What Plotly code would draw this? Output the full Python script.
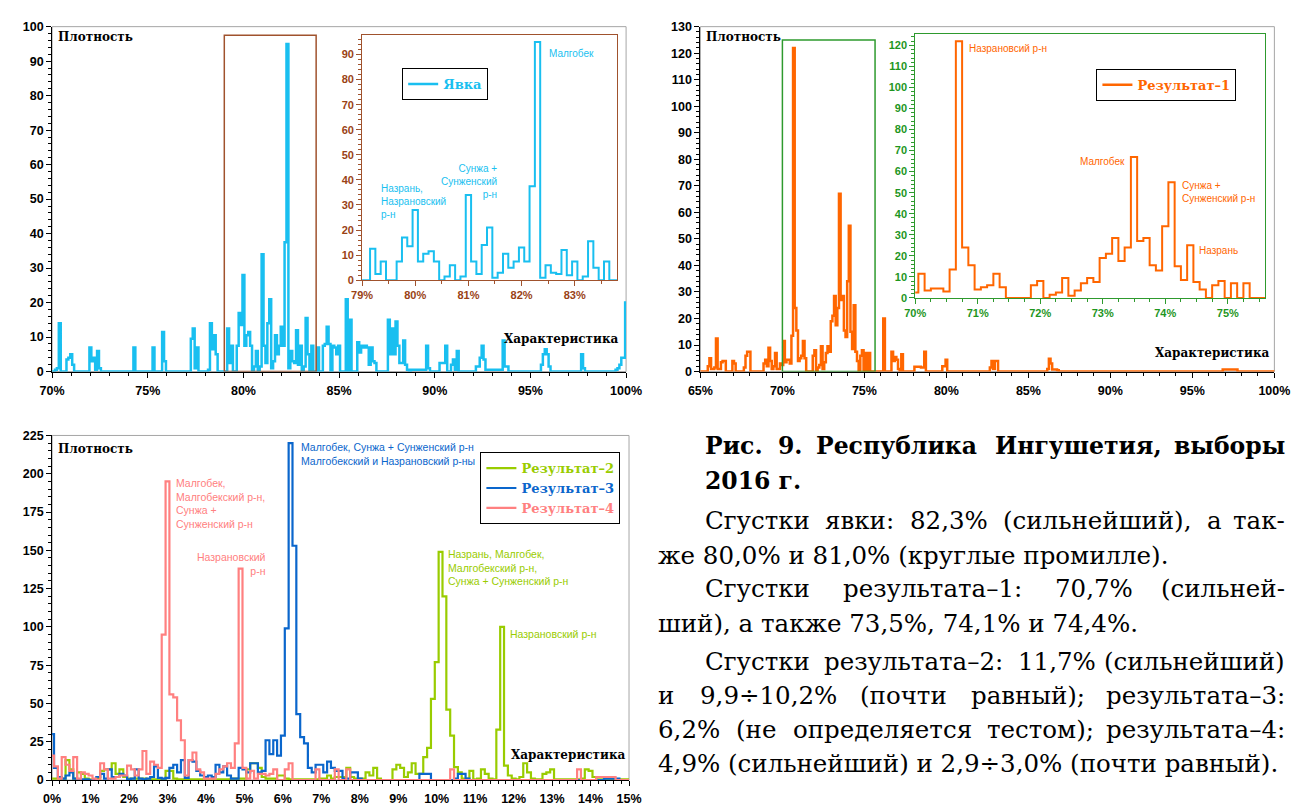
import numpy as np
import plotly.graph_objects as go

W, H = 1307, 809
def fx(px): return px / W
def fy(py): return 1 - py / H

# ---------------- DATA (bins of 0.1 %, first bin centre given) ----------------
yavka_start = 70.0
yavka = [
    0, 0, 0.5, 1, 14, 0, 0, 0, 3.5, 4,          # 70
    5, 2, 0, 0, 0, 0, 0, 0, 0, 0,               # 71
    7, 3, 4, 0.5, 6, 1, 0, 0, 0, 0,             # 72
    0, 0, 0, 0, 0, 0, 0, 0, 0, 0,               # 73
    0, 0, 0, 7, 0, 0, 0, 0, 0, 0,               # 74
    0, 0, 0, 7, 0, 0, 0, 0, 11.5, 3,            # 75
    0, 0, 0, 0, 0, 0, 0, 0, 0, 0,               # 76
    0, 0, 0, 9.5, 12.5, 1, 7, 0, 0, 0,          # 77
    0, 0, 0.5, 14, 6.5, 10.5, 5, 0, 0, 0,       # 78
    0, 0, 12.5, 2.5, 7.5, 0, 0, 7.5, 17, 13.5,  # 79
    28, 7.5, 10.5, 11.5, 7.5, 0, 1.5, 6, 0, 1.5,  # 80
    34, 7.5, 2.5, 14, 21, 1, 3, 10.5, 5, 7.5,   # 81
    13, 7.5, 37.5, 95, 1, 6, 3, 2.5, 12, 2,     # 82
    7.5, 0, 1.5, 15.5, 5, 0, 7.5, 0, 0, 7,      # 83
    0, 0, 7.5, 8, 13, 8, 0, 7.5, 7, 5,          # 84
    7.5, 0, 0, 0, 21, 0, 15, 0, 0, 0,           # 85
    8.5, 5.5, 7.5, 7, 7.5, 7, 2, 7, 3, 2.5,     # 86
    0, 0, 0, 0, 0, 0, 15, 5, 12.5, 5,           # 87
    14.5, 7.5, 2.5, 2.5, 9, 2, 0.5, 0, 0.5, 0.5,  # 88
    0.5, 0.5, 0.5, 0.5, 0.5, 0.5, 7.5, 1, 0, 0,   # 89
    0, 0, 0, 2.5, 2.5, 2.5, 7.5, 0, 0, 2,       # 90
    3.5, 0.5, 6, 0, 0, 0, 0, 0, 0, 0,           # 91
    0, 0, 1.5, 1.5, 4, 7.5, 3.5, 0.5, 0.5, 0.5,   # 92
    0.5, 0.5, 0.5, 0.5, 0.5, 0.5, 9, 1.5, 1.5, 0, # 93
    0, 0, 0, 0, 0, 0, 0, 0, 0, 0,               # 94
    0, 0, 0, 0, 0, 0, 2, 5, 6.5, 5,             # 95
    1.5, 0, 0, 0, 0, 0, 0, 0, 0, 0,             # 96
    0, 0, 0, 0, 0, 0, 0, 5, 1, 0,               # 97
    0, 0, 0, 0, 0, 0, 0, 0, 0, 0,               # 98
    0, 0, 0, 0, 0, 0.5, 1, 2, 4, 4,             # 99
    20,                                         # 100
]

res1_start = 65.0
res1 = [
    0, 0, 0, 0, 0, 2, 5, 1, 1, 1.5,             # 65
    12.5, 1, 1, 3.5, 4, 4, 0, 0, 0, 0,          # 66
    4, 3, 0, 0, 0, 0, 0, 1.5, 6, 7.5,           # 67
    7.5, 0, 0, 0, 0, 0, 0, 0, 0, 3,             # 68
    4.5, 2, 9, 4, 1, 2, 7, 1, 1, 3,             # 69
    2.5, 11.5, 3.5, 4.5, 4.5, 3, 13.5, 122, 24, 15.5,  # 70
    4, 5, 6, 11.5, 5, 0, 0, 0, 0, 6,            # 71
    8, 0, 1.5, 2.5, 9.5, 1, 3.5, 7, 9.5, 7.5,   # 72
    19, 21, 28.5, 17.5, 24, 67, 27, 28.5, 15.5, 13,  # 73
    34, 55, 15, 8.5, 25, 7.5, 4, 0, 6, 8,       # 74
    0, 7, 0, 7, 0, 0, 0, 0, 0, 0,               # 75
    0, 0, 20, 0, 0, 0, 0, 7.5, 4, 5.5,          # 76
    4.5, 1, 0, 6.5, 0, 0, 0, 0, 0, 0,           # 77
    0, 1.8, 1.8, 1.8, 1.8, 1.5, 1.5, 7.5, 0, 0, # 78
    0, 0, 0, 0, 0, 0, 0, 0, 2, 2,               # 79
    4.5, 0, 0, 0, 0, 0, 0, 0, 0, 0,             # 80
    0, 0, 0, 0, 0, 0, 0, 0, 0, 0,               # 81
    0, 0, 0, 0, 0, 0, 0, 1.5, 4, 1,             # 82
    4, 4, 0, 0, 0, 0, 0, 0, 0, 0,               # 83
    0, 0, 0, 0, 0, 0, 0, 0, 0, 0,               # 84
    0, 0, 0, 0, 0, 0, 0, 0, 0, 0,               # 85
    0, 0, 1, 4.8, 3, 0.8, 0.8, 0.8, 0.5, 0,     # 86
    0, 0, 0, 0, 0, 0, 0, 0, 0, 0,               # 87
    0, 0, 0, 0, 0, 0, 0, 0, 0, 0,               # 88
    0, 0, 0, 0, 0, 0, 0, 0, 0, 0,               # 89
    0, 0, 0, 0, 0, 0, 0, 0, 0, 0,               # 90
    0, 0, 0, 0, 0, 0, 0, 0, 0, 0,               # 91
    0, 0, 0, 0, 0, 0, 0, 0, 0, 0,               # 92
    0, 0, 0, 0, 0, 0, 0, 0, 0, 0,               # 93
    0, 0, 0, 0, 0, 0, 0, 0, 0, 0,               # 94
    0, 0, 0, 0, 0, 0, 0, 0, 0, 0,               # 95
    0, 0, 0, 0, 0, 0, 0, 0, 0, 0.8,             # 96
    0.8, 0.8, 0.8, 0.8, 0.8, 0.8, 0.8, 0.8, 0, 0,  # 97
    0, 0, 0, 0, 0, 0, 0, 0, 0, 0,               # 98
    0, 0, 0, 0, 0, 0, 0, 0, 0, 0,               # 99
    0,                                          # 100
]

res_start = 0.0
res2 = [
    1, 1, 1, 1, 13, 7, 1, 5, 4, 1,              # 0
    0.5, 0.5, 1, 6, 7, 7, 11, 4, 7, 2,          # 1
    1, 1, 1, 1, 1, 0.5, 0.5, 0.5, 0.5, 0.5,     # 2
    6, 6, 1, 0.5, 0.5, 0.5, 0.5, 0.5, 0.5, 0.5, # 3
    0.5, 0.5, 0.5, 0.5, 0.5, 0.5, 0.5, 1, 1, 1, # 4
    1, 7, 11, 11, 8, 2, 1, 1, 1, 3,             # 5
    3, 1, 0.5, 0.5, 0.5, 0.5, 0.5, 0.5, 0.5, 0.5,  # 6
    1, 1, 3, 1, 2, 2, 2, 8, 2, 1,               # 7
    1, 1, 5, 3, 8, 1, 0, 0, 0, 7,               # 8
    10, 8, 2, 5, 11, 4, 4, 15, 21, 53,          # 9
    77, 149, 120, 46, 29, 8.5, 5, 1, 1, 6,      # 10
    0.5, 1, 7, 4, 1, 0.5, 33, 100, 9.5, 3,      # 11
    1, 0.5, 2, 11, 5, 1, 0.5, 0.5, 4, 5,        # 12
    7, 0.5, 0.5, 0.5, 0.5, 0.5, 0.5, 0.5, 1, 7, # 13
    6, 2, 0.5, 0.5, 0.5, 0.5, 0.5, 0.5, 0.5, 0.5,  # 14
    0.5,                                        # 15
]
res3 = [
    30, 8, 2, 1, 3, 5, 1, 0.5, 0.5, 0.5,        # 0
    0, 0, 2, 4, 1, 7, 2, 2, 4, 3,               # 1
    0.5, 1, 7, 1, 0.5, 1, 2, 9, 1.5, 1,         # 2
    1.5, 8, 10, 5, 13, 1.5, 13, 12, 6, 3,       # 3
    2, 3, 2, 10, 5, 9, 3, 1, 1, 8,              # 4
    7, 5, 11, 11, 5, 6, 26, 17, 26, 16,         # 5
    29, 99, 220, 153, 43, 28, 24, 8, 5, 10,     # 6
    10, 5, 12, 8, 6, 6, 1, 1, 5, 5,             # 7
    1, 0, 0, 0, 0, 0, 0, 0, 0, 0,               # 8
    0, 0, 0, 0, 0, 0, 4, 4, 4, 0,               # 9
    0, 0, 0, 0, 0, 1, 4, 4, 1, 0,               # 10
    0, 0, 0, 0, 0, 0, 0, 0, 0, 0,               # 11
    0, 0, 0, 0, 0, 0, 0, 0, 0, 0,               # 12
    0, 0, 0, 0, 0, 0, 0, 0, 0, 0,               # 13
    0, 0, 0, 0, 1, 1, 1, 1, 0, 0,               # 14
    0,                                          # 15
]
res4 = [
    16, 9, 1, 15, 10, 6, 15, 1, 5, 4,           # 0
    3, 1, 0, 11, 7, 1, 1, 2, 3, 3,              # 1
    9.5, 7, 3, 7, 19, 4, 12, 10, 8, 95,         # 2
    195, 56, 54, 39, 26, 3, 13, 18, 7, 5,       # 3
    1, 1, 1, 4, 7, 9, 11, 8, 24, 138,           # 4
    8, 1, 6, 1, 4, 4, 3, 4, 7, 0,               # 5
    0, 7, 11, 0, 0, 0, 0, 0, 0, 7,              # 6
    0, 0, 0, 0, 7, 0, 0, 7, 0, 0,               # 7
    0, 0, 0, 0, 0, 0, 0, 0, 0, 0,               # 8
    0, 0, 0, 0, 0, 0, 0, 0, 0, 0,               # 9
    0, 0, 0, 0, 7, 0, 0, 0, 0, 0,               # 10
    0, 0, 0, 0, 0, 0, 0, 0, 0, 0,               # 11
    0, 0, 0, 0, 0, 0, 0, 0, 0, 0,               # 12
    0, 0, 0, 0, 0, 0, 0, 7, 0, 0,               # 13
    0, 0, 2, 2, 2, 2, 2, 0, 0, 0,               # 14
    0,                                          # 15
]

series_names = ["Явка", "Результат–1", "Результат–2", "Результат–3", "Результат–4"]

caption_title = ["Рис. 9. Республика Ингушетия, выборы", "2016 г."]
caption_lines = [
    # (text, justified, first-line indent)
    ("Сгустки явки: 82,3% (сильнейший), а так-", True, True),
    ("же 80,0% и 81,0% (круглые промилле).", False, False),
    ("Сгустки результата–1: 70,7% (сильней-", True, True),
    ("ший), а также 73,5%, 74,1% и 74,4%.", False, False),
    ("Сгустки результата–2: 11,7% (сильнейший)", True, True),
    ("и 9,9÷10,2% (почти равный); результата–3:", True, False),
    ("6,2% (не определяется тестом); результата–4:", True, False),
    ("4,9% (сильнейший) и 2,9÷3,0% (почти равный).", False, False),
]

# ---------------- STYLE ----------------
C_YAVKA = "#19BFF0"
C_R1 = "#FF6600"
C_R2 = "#99CC00"
C_R3 = "#0A66CC"
C_R4 = "#FF8080"
C_BROWN = "#A0522D"
C_BROWN_T = "#9A4215"
C_GREEN = "#2E9A2E"
C_GREEN_T = "#1E961E"
C_FRAME = "#A6A6A6"

SANS = "Liberation Sans"
SERIF = "DejaVu Serif"


def steps(x0, vals):
    centers = x0 + 0.1 * np.arange(len(vals))
    xs = np.append(centers - 0.05, centers[-1] + 0.05)
    ys = np.append(np.asarray(vals, dtype=float), vals[-1])
    return xs, ys


def legend_name(txt, color):
    return f"<b><span style='color:{color}'>{txt}</span></b>"


fig = go.Figure()

xs, ys = steps(yavka_start, yavka)
fig.add_trace(go.Scatter(x=xs, y=ys, mode="lines", xaxis="x", yaxis="y",
                         line=dict(color=C_YAVKA, width=2.5, shape="hv"),
                         name=legend_name(series_names[0], C_YAVKA), legend="legend",
                         hoverinfo="skip"))
fig.add_trace(go.Scatter(x=xs, y=ys, mode="lines", xaxis="x2", yaxis="y2",
                         line=dict(color=C_YAVKA, width=2, shape="hv"),
                         showlegend=False, hoverinfo="skip"))

xs, ys = steps(res1_start, res1)
fig.add_trace(go.Scatter(x=xs, y=ys, mode="lines", xaxis="x3", yaxis="y3",
                         line=dict(color=C_R1, width=2.5, shape="hv"),
                         name=legend_name(series_names[1], C_R1), legend="legend2",
                         hoverinfo="skip"))
fig.add_trace(go.Scatter(x=xs, y=ys, mode="lines", xaxis="x4", yaxis="y4",
                         line=dict(color=C_R1, width=2, shape="hv"),
                         showlegend=False, hoverinfo="skip"))

for vals, col, nm in [(res2, C_R2, series_names[2]), (res3, C_R3, series_names[3]),
                      (res4, C_R4, series_names[4])]:
    xs, ys = steps(res_start, vals)
    fig.add_trace(go.Scatter(x=xs, y=ys, mode="lines", xaxis="x5", yaxis="y5",
                             line=dict(color=col, width=2.2, shape="hv"),
                             name=legend_name(nm, col), legend="legend3",
                             hoverinfo="skip"))


def axis(domain, rng, dtick, minor, anchor, color="black", suffix="", fsize=12.5,
         mirror=False, standoff=None, tcolor=None):
    tcolor = tcolor or color
    d = dict(domain=domain, range=rng, tick0=rng[0], dtick=dtick, anchor=anchor,
             showgrid=False, zeroline=False, showline=True, linecolor=color, linewidth=1,
             mirror=mirror, ticks="outside", ticklen=5, tickwidth=1, tickcolor=color,
             ticksuffix=suffix, tickformat="d",
             tickfont=dict(family=SANS, size=fsize, color=tcolor, weight="bold"),
             minor=dict(tick0=rng[0], dtick=minor, ticks="outside", ticklen=3,
                        tickwidth=1, tickcolor=color, showgrid=False),
             fixedrange=True)
    if standoff is not None:
        d["ticklabelstandoff"] = standoff
    return d


layout_axes = dict(
    xaxis=axis([fx(40), fx(627)], [70, 100], 5, 1, "y", suffix="%", standoff=2),
    yaxis=axis([fy(371), fy(20)], [0, 100], 10, 2, "x"),
    xaxis2=axis([fx(357), fx(618)], [79, 83.8], 1, 0.5, "y2", color=C_BROWN, tcolor=C_BROWN_T,
                suffix="%", fsize=11, mirror=True, standoff=0),
    yaxis2=axis([fy(278), fy(29)], [0, 97.6], 10, 2, "x2", color=C_BROWN, tcolor=C_BROWN_T,
                fsize=11, mirror=True),
    xaxis3=axis([fx(703), fx(1290)], [65, 100], 5, 1, "y3", suffix="%", standoff=2),
    yaxis3=axis([fy(371), fy(20)], [0, 130], 10, 2, "x3"),
    xaxis4=axis([fx(922.7), fx(1280.7)], [70, 75.6], 1, 0.25, "y4", color=C_GREEN,
                tcolor=C_GREEN_T, suffix="%", fsize=11, mirror=True, standoff=0),
    yaxis4=axis([fy(296), fy(27.7)], [0, 125.3], 10, 2, "x4", color=C_GREEN,
                tcolor=C_GREEN_T, fsize=11, mirror=True),
    xaxis5=axis([fx(40), fx(630)], [0, 15], 1, 0.2, "y5", suffix="%", standoff=2),
    yaxis5=axis([fy(786.7), fy(436)], [0, 225], 25, 5, "x5"),
)

shapes = []
for xr, yr in [("x", "y"), ("x3", "y3"), ("x5", "y5")]:
    shapes.append(dict(type="rect", xref=f"{xr} domain", yref=f"{yr} domain",
                       x0=0, x1=1, y0=0, y1=1, line=dict(color=C_FRAME, width=1),
                       layer="below"))
shapes.append(dict(type="rect", xref="x", yref="y", x0=79, x1=83.8, y0=0, y1=97.5,
                   line=dict(color=C_BROWN, width=1.5)))
shapes.append(dict(type="rect", xref="x3", yref="y3", x0=70, x1=75.65, y0=0, y1=125,
                   line=dict(color=C_GREEN, width=1.5)))

ann = []


def label(text, x, y, color, size=10, xanchor="left", align="left", family=SANS):
    ann.append(dict(text=text, x=fx(x), y=fy(y), xref="paper", yref="paper",
                    xanchor=xanchor, yanchor="middle", align=align, showarrow=False,
                    font=dict(family=family, size=size, color=color)))


for x, y in [(44, 31), (707, 31), (44, 450)]:
    label("<b>Плотность</b>", x, y, "black", size=12, family=SERIF)
for x, y in [(622, 338), (1288, 352), (629, 761)]:
    label("<b>Характеристика</b>", x, y, "black", size=12, family=SERIF, xanchor="right",
          align="right")

label("Малгобек", 546, 47, C_YAVKA)
label("Сунжа +<br>Сунженский<br>р-н", 497, 178, C_YAVKA, xanchor="right", align="right")
label("Назрань,<br>Назрановский<br>р-н", 374, 198, C_YAVKA)

label("Назрановсий р-н", 976, 42, C_R1)
label("Малгобек", 1139, 157, C_R1, xanchor="right", align="right")
label("Сунжа +<br>Сунженский р-н", 1193, 188.5, C_R1)
label("Назрань", 1211, 248, C_R1)

label("Малгобек, Сунжа + Сунженский р-н<br>Малгобекский и Назрановский р-ны", 292, 455,
      C_R3, size=10.5)
label("Малгобек,<br>Малгобекский р-н,<br>Сунжа +<br>Сунженский р-н", 165, 505, C_R4,
      size=10.5)
label("Назрановский<br>р-н", 261, 566.5, C_R4, size=10.5, xanchor="right", align="right")
label("Назрань, Малгобек,<br>Малгобекский р-н,<br>Сунжа + Сунженский р-н", 443, 570.5,
      C_R2, size=10.5)
label("Назрановский р-н", 506, 638, C_R2, size=10.5)

# approximate advance widths of DejaVu Serif (per 1000 em), for justified placement
DJV = {' ': 318, ',': 318, '.': 318, ':': 337, ';': 337, '%': 950, '(': 390, ')': 390,
       '÷': 838, '–': 500, '-': 338, '+': 838,
       'а': 596, 'б': 613, 'в': 620, 'г': 535, 'д': 651, 'е': 592, 'ж': 941, 'з': 550,
       'и': 676, 'й': 676, 'к': 635, 'л': 652, 'м': 784, 'н': 676, 'о': 602, 'п': 676,
       'р': 640, 'с': 561, 'т': 585, 'у': 576, 'ф': 855, 'х': 617, 'ц': 676, 'ч': 653,
       'ш': 952, 'щ': 952, 'ъ': 700, 'ы': 842, 'ь': 596, 'э': 561, 'ю': 868, 'я': 620,
       'С': 733, 'Р': 683, 'И': 872}
for d in "0123456789":
    DJV[d] = 636


def tw(s, size, bold=False):
    w = sum(DJV.get(ch, 620) for ch in s)
    if bold:
        w *= 1.16
    return w * size / 1000.0


def put_line(text, y, left, right, size, bold, justify):
    if not justify:
        t = f"<b>{text}</b>" if bold else text
        ann.append(dict(text=t, x=fx(left), y=fy(y), xref="paper", yref="paper",
                        xanchor="left", yanchor="middle", showarrow=False,
                        font=dict(family=SERIF, size=size, color="black")))
        return
    words = text.split(" ")
    widths = [tw(w, size, bold) for w in words]
    gap = (right - left - sum(widths)) / (len(words) - 1)
    x = left
    for i, w in enumerate(words):
        t = f"<b>{w}</b>" if bold else w
        last = i == len(words) - 1
        ann.append(dict(text=t, x=fx(right if last else x), y=fy(y), xref="paper",
                        yref="paper", xanchor="right" if last else "left",
                        yanchor="middle", showarrow=False,
                        font=dict(family=SERIF, size=size, color="black")))
        x += widths[i] + gap


TXT_L, TXT_IND, TXT_R = 658, 706, 1303
FS = 24.5
put_line(caption_title[0], 447, TXT_IND, TXT_R, 23.5, True, True)
put_line(caption_title[1], 482, TXT_IND, TXT_R, 23.5, True, False)
ys_body = [523, 558, 592, 627, 666, 701, 735, 770]
for (txt, just, ind), yy in zip(caption_lines, ys_body):
    put_line(txt, yy, TXT_IND if ind else TXT_L, TXT_R, FS, False, just)

legend_common = dict(xanchor="left", yanchor="top", bgcolor="white", bordercolor="black",
                     borderwidth=1, font=dict(family=SERIF, size=13, color="black"),
                     itemwidth=30, tracegroupgap=0)

fig.update_layout(
    width=W, height=H, margin=dict(l=0, r=0, t=0, b=0),
    paper_bgcolor="white", plot_bgcolor="white",
    font=dict(family=SANS),
    shapes=shapes, annotations=ann,
    legend=dict(x=fx(398), y=fy(62), **legend_common),
    legend2=dict(x=fx(1108), y=fy(63), **legend_common),
    legend3=dict(x=fx(478), y=fy(453), **legend_common),
    **layout_axes,
)

fig.write_html("out.html", config={"displayModeBar": False})
